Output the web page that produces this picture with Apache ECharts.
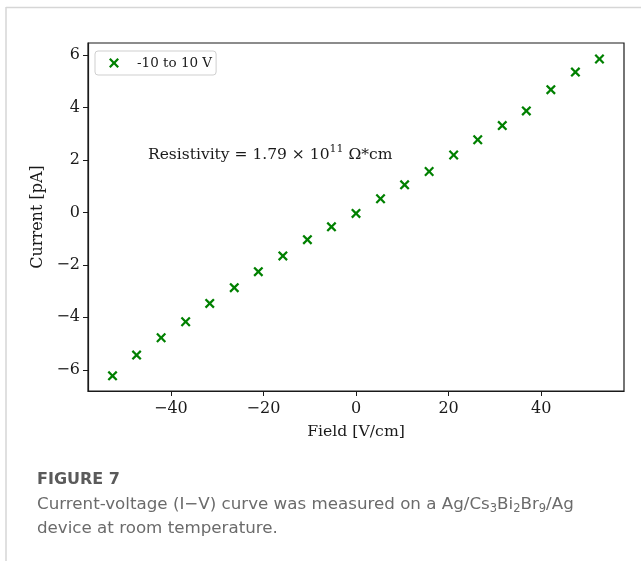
<!DOCTYPE html>
<html>
<head>
<meta charset="utf-8">
<script src="https://cdn.jsdelivr.net/npm/echarts@6/dist/echarts.min.js"></script>
<style>
  html, body { margin: 0; padding: 0; background: #fff; }
  #chart { width: 641px; height: 561px; }
</style>
</head>
<body>
<div id="chart"></div>
<script>
// I–V sweep of the Ag/Cs3Bi2Br9/Ag device, -10 V to 10 V in 1 V steps
const fieldVcm = [-52.6, -47.4, -42.1, -36.8, -31.6, -26.3, -21.1, -15.8, -10.5, -5.3, 0,
                  5.3, 10.5, 15.8, 21.1, 26.3, 31.6, 36.8, 42.1, 47.4, 52.6];
const currentPA = [-6.23, -5.44, -4.78, -4.17, -3.47, -2.87, -2.26, -1.66, -1.04, -0.55, -0.04,
                   0.52, 1.05, 1.56, 2.19, 2.77, 3.31, 3.87, 4.68, 5.35, 5.85];
const seriesName = '-10 to 10 V';
const xTicks = [-40, -20, 0, 20, 40];
const yTicks = [-6, -4, -2, 0, 2, 4, 6];

const SERIF = '"DejaVu Serif", serif';
const SANS = '"DejaVu Sans", sans-serif';
const INK = '#1a1a1a';
const GREEN = '#008000';
const CAPTION = '#6b6b6b';
// "x" marker drawn as a filled outline
const xMarker = 'path://M0,1.6L1.6,0L5,3.4L8.4,0L10,1.6L6.6,5L10,8.4L8.4,10L5,6.6L1.6,10L0,8.4L3.4,5Z';

const fmt = v => (v < 0 ? '\u2212' + Math.abs(v) : String(v));
const points = fieldVcm.map((x, i) => [x, currentPA[i]]);

const chart = echarts.init(document.getElementById('chart'), null, { renderer: 'canvas' });
chart.setOption({
  backgroundColor: '#ffffff',
  animation: false,
  grid: {
    left: 88, top: 43, right: 17, bottom: 170,
    show: true, borderColor: INK, borderWidth: 1.2, backgroundColor: 'transparent'
  },
  legend: {
    left: 95, top: 51,
    backgroundColor: '#ffffff',
    borderColor: '#cfcfcf', borderWidth: 1, borderRadius: 3,
    padding: [5, 4, 5, 14],
    itemWidth: 10, itemHeight: 10,
    textStyle: { fontFamily: SERIF, fontSize: 13.5, color: INK, padding: [0, 0, 0, 13] },
    data: [{ name: seriesName, icon: xMarker, itemStyle: { color: GREEN } }]
  },
  xAxis: {
    type: 'value', min: -57.9, max: 57.9,
    name: 'Field [V/cm]', nameLocation: 'middle', nameGap: 33,
    nameTextStyle: { fontFamily: SERIF, fontSize: 15.7, color: INK },
    axisLine: { show: true, onZero: false, lineStyle: { color: INK, width: 1.2 } },
    axisTick: { show: true, inside: false, length: 5, customValues: xTicks, lineStyle: { color: INK, width: 1 } },
    axisLabel: { customValues: xTicks, formatter: fmt, margin: 10, fontFamily: SERIF, fontSize: 16, color: INK },
    splitLine: { show: false }
  },
  yAxis: {
    type: 'value', min: -6.81, max: 6.46,
    name: 'Current [pA]', nameLocation: 'middle', nameGap: 42,
    nameTextStyle: { fontFamily: SERIF, fontSize: 16, color: INK },
    axisLine: { show: true, onZero: false, lineStyle: { color: INK, width: 1.2 } },
    axisTick: { show: true, inside: false, length: 5, customValues: yTicks, lineStyle: { color: INK, width: 1 } },
    axisLabel: { customValues: yTicks, formatter: fmt, margin: 8, fontFamily: SERIF, fontSize: 16, color: INK },
    splitLine: { show: false }
  },
  series: [{
    name: seriesName,
    type: 'scatter',
    data: points,
    symbol: xMarker,
    symbolSize: 10,
    itemStyle: { color: GREEN, opacity: 1 }
  }],
  graphic: [
    // page frame lines
    { type: 'line', shape: { x1: 6, y1: 7.5, x2: 641, y2: 7.5 }, style: { stroke: '#d6d6d6', lineWidth: 1.5 }, silent: true },
    { type: 'line', shape: { x1: 6, y1: 7, x2: 6, y2: 561 }, style: { stroke: '#d6d6d6', lineWidth: 1.5 }, silent: true },
    // resistivity annotation
    {
      type: 'text', left: 148, top: 144,
      style: {
        text: '{a|Resistivity = 1.79 \u00d7 10}{s|11}{a| \u03a9*cm}',
        rich: {
          a: { fontFamily: SERIF, fontSize: 15.5, fill: INK, lineHeight: 21, verticalAlign: 'middle' },
          s: { fontFamily: SERIF, fontSize: 11, fill: INK, lineHeight: 21, verticalAlign: 'top' }
        }
      }
    },
    // caption
    {
      type: 'text', left: 37, top: 472,
      style: { text: 'FIGURE 7', fontFamily: SANS, fontWeight: 'bold', fontSize: 16, fill: '#5a5a5a' }
    },
    {
      type: 'text', left: 37, top: 496,
      style: {
        text: '{a|Current-voltage (I\u2212V) curve was measured on a Ag/Cs}{s|3}{a|Bi}{s|2}{a|Br}{s|9}{a|/Ag}',
        rich: {
          a: { fontFamily: SANS, fontSize: 16.7, fill: CAPTION, lineHeight: 22, verticalAlign: 'middle' },
          s: { fontFamily: SANS, fontSize: 11.5, fill: CAPTION, lineHeight: 22, verticalAlign: 'bottom' }
        }
      }
    },
    {
      type: 'text', left: 37, top: 518,
      style: {
        text: 'device at room temperature.',
        fontFamily: SANS, fontSize: 16.7, fill: CAPTION, lineHeight: 22
      }
    }
  ]
});
</script>
</body>
</html>
